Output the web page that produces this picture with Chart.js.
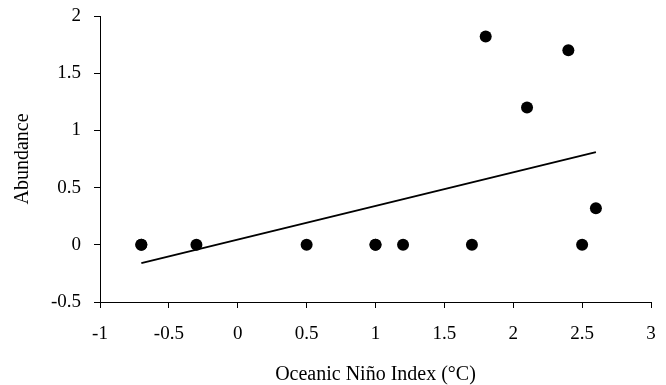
<!DOCTYPE html>
<html>
<head>
<meta charset="utf-8">
<script src="https://cdn.jsdelivr.net/npm/chart.js@4"></script>
<style>
  html, body { margin: 0; padding: 0; background: #fff; }
  #wrap { width: 666px; height: 385px; }
</style>
</head>
<body>
<div id="wrap"><canvas id="ninoChart"></canvas></div>
<script>
// Observed values
const oniValues = [-0.7, -0.7, -0.3, 0.5, 1.0, 1.0, 1.2, 1.7, 1.8, 2.1, 2.4, 2.5, 2.6];
const abundanceValues = [0, 0, 0, 0, 0, 0, 0, 0, 1.82, 1.2, 1.7, 0, 0.32];

// Linear trend line end points
const trendX = [-0.7, 2.6];
const trendY = [-0.16, 0.81];

const xTitle = 'Oceanic Niño Index (°C)';
const yTitle = 'Abundance';

const serif = "'Liberation Serif', 'Times New Roman', serif";

const points = oniValues.map((x, i) => ({ x: x, y: abundanceValues[i] }));
const trend = trendX.map((x, i) => ({ x: x, y: trendY[i] }));

function axisCommon(min, max, tickPad) {
  return {
    type: 'linear',
    min: min,
    max: max,
    grid: {
      drawOnChartArea: false,
      drawTicks: true,
      tickLength: 6,
      color: '#000'
    },
    border: { display: true, color: '#000', width: 1 },
    ticks: {
      stepSize: 0.5,
      color: '#000',
      padding: tickPad,
      font: { family: serif, size: 19 },
      callback: v => String(v)
    }
  };
}

const xScale = axisCommon(-1, 3, 15);
xScale.ticks.maxRotation = 0;
xScale.title = {
  display: true,
  text: xTitle,
  color: '#000',
  font: { family: serif, size: 20, lineHeight: 1.0 },
  padding: { top: 0, bottom: 0 }
};
// fixed axis sizes so the plot box lands where the reference has it
xScale.afterFit = scale => {
  scale.height = 83;
  scale.paddingLeft = 0;
  scale.paddingRight = 0;
};

const yScale = axisCommon(-0.5, 2, 13);
yScale.title = {
  display: true,
  text: yTitle,
  color: '#000',
  font: { family: serif, size: 20, lineHeight: 1.0 },
  padding: { top: 13, bottom: 0 }
};
yScale.afterFit = scale => {
  scale.width = 100;
  scale.paddingTop = 0;
  scale.paddingBottom = 0;
};

new Chart(document.getElementById('ninoChart'), {
  type: 'scatter',
  data: {
    datasets: [
      {
        label: 'Abundance',
        data: points,
        backgroundColor: '#000',
        borderColor: '#000',
        borderWidth: 0,
        pointRadius: 6
      },
      {
        type: 'line',
        label: 'Trend',
        data: trend,
        borderColor: '#000',
        borderWidth: 2,
        pointRadius: 0,
        fill: false,
        tension: 0
      }
    ]
  },
  options: {
    responsive: true,
    maintainAspectRatio: false,
    animation: false,
    layout: { padding: { top: 16, right: 15, left: 0, bottom: 0 } },
    plugins: {
      legend: { display: false },
      tooltip: { enabled: false }
    },
    scales: { x: xScale, y: yScale }
  }
});
</script>
</body>
</html>
